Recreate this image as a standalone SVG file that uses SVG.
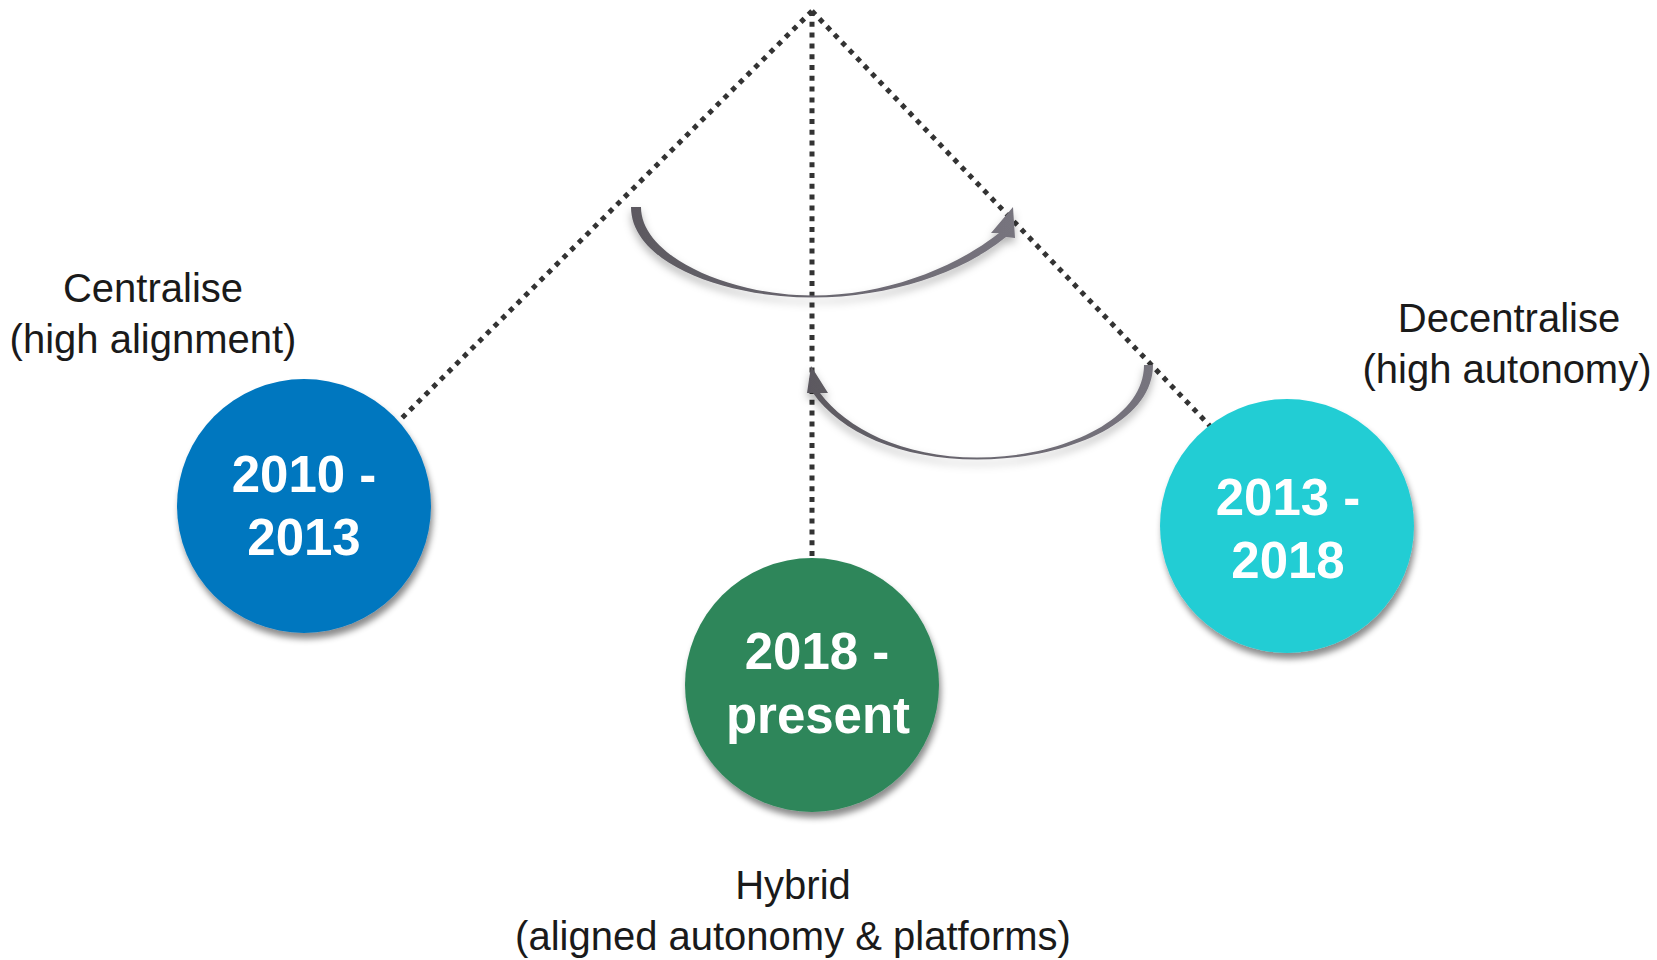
<svg xmlns="http://www.w3.org/2000/svg" width="1657" height="960" viewBox="0 0 1657 960">
<style>
.lbl{font-family:"Liberation Sans",Arial,sans-serif;font-size:40px;fill:#1a1a1a;text-anchor:middle}
.yr{font-family:"Liberation Sans",Arial,sans-serif;font-size:51px;font-weight:bold;fill:#ffffff;text-anchor:middle}
.dot{fill:none;stroke:#333333;stroke-width:5;stroke-dasharray:5 5.8}
.arr{fill:url(#ag);filter:url(#ash)}
</style>
<defs>
<filter id="sh" x="-20%" y="-20%" width="140%" height="150%">
<feDropShadow dx="2" dy="6" stdDeviation="3" flood-color="#000" flood-opacity="0.45"/>
</filter>
<filter id="ash" x="-10%" y="-20%" width="120%" height="160%">
<feDropShadow dx="0" dy="5" stdDeviation="4" flood-color="#000" flood-opacity="0.3"/>
</filter>
<linearGradient id="ag" x1="0" y1="0" x2="1" y2="0">
<stop offset="0" stop-color="#5c5960"/>
<stop offset="0.5" stop-color="#6a6770"/>
<stop offset="1" stop-color="#77747e"/>
</linearGradient>
</defs>
<g id="connectors">
<line class="dot" x1="812" y1="11" x2="400" y2="420"/>
<line class="dot" x1="812" y1="11" x2="1210" y2="426"/>
<line class="dot" x1="812" y1="11" x2="812" y2="558"/>
<path class="arr" d="M631,207 L641,207 C641,256 728,295.5 813,295.5 C885,295.5 955,268 999,233 L991,233 L1013,207 L1015,238 L1006,237 C962,273 890,297.5 813,297.5 C722,297.5 631,262 631,207 Z"/>
<path class="arr" d="M1144,365 L1153,365 C1153,422 1068,459.5 977,459.5 C900,459.5 840,432 813,393 L807,393 L811,366 L828,393 L820,393 C846,428 902,457.5 977,457.5 C1062,457.5 1144,420 1144,365 Z"/>
</g>
<g id="node-centralise">
<circle cx="304" cy="506" r="127" fill="#0077bf" filter="url(#sh)"/>
<text class="yr" x="304" y="492">2010 -</text>
<text class="yr" x="304" y="555">2013</text>
<text class="lbl" x="153" y="302">Centralise</text>
<text class="lbl" x="153" y="353">(high alignment)</text>
</g>
<g id="node-hybrid">
<circle cx="812" cy="685" r="127" fill="#2e865a" filter="url(#sh)"/>
<text class="yr" x="817" y="669">2018 -</text>
<text class="yr" x="818" y="733">present</text>
<text class="lbl" x="793" y="899">Hybrid</text>
<text class="lbl" x="793" y="950">(aligned autonomy &amp; platforms)</text>
</g>
<g id="node-decentralise">
<circle cx="1287" cy="526" r="127" fill="#23cdd4" filter="url(#sh)"/>
<text class="yr" x="1288" y="515">2013 -</text>
<text class="yr" x="1288" y="578">2018</text>
<text class="lbl" x="1509" y="332">Decentralise</text>
<text class="lbl" x="1507" y="383">(high autonomy)</text>
</g>
</svg>
